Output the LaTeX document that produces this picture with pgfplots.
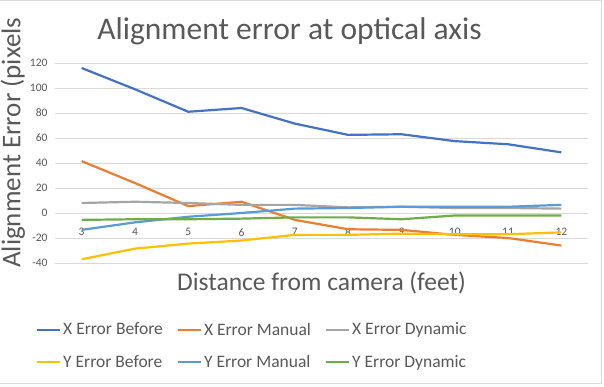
\documentclass[border=0pt]{standalone}
\usepackage{fontspec}
\setmainfont{Carlito}
\usepackage{pgfplots}
\pgfplotsset{compat=1.18}

\definecolor{txt}{HTML}{595959}
\definecolor{grd}{HTML}{D9D9D9}
\definecolor{c1}{HTML}{4472C4}
\definecolor{c2}{HTML}{ED7D31}
\definecolor{c3}{HTML}{A5A5A5}
\definecolor{c4}{HTML}{FFC000}
\definecolor{c5}{HTML}{5B9BD5}
\definecolor{c6}{HTML}{70AD47}

\begin{document}
\begin{tikzpicture}
\clip (0pt,0pt) rectangle (604pt,386pt);
\fill[white] (0pt,0pt) rectangle (604pt,386pt);
\draw[grd, line width=0.9pt] (-5pt,2.5pt) rectangle (601pt,385.5pt);
\begin{axis}[
    at={(55pt,123pt)}, anchor=south west,
    scale only axis,
    width=533pt, height=200pt,
    xmin=2.5, xmax=12.5,
    ymin=-40, ymax=120,
    xtick={3,...,12},
    ytick={-40,-20,...,120},
    axis line style={draw=none},
    tick style={draw=none},
    ymajorgrids,
    grid style={grd, line width=0.9pt},
    /pgf/number format/assume math mode=true,
    ticklabel style={font=\fontsize{11.5}{13}\selectfont, text=txt},
    xticklabel style={yshift=38pt},
    yticklabel style={xshift=-4pt},
    legend columns=3,
    legend style={
        at={(rel axis cs:-0.036,-0.415)}, anchor=west,
        draw=none, fill=none, inner sep=0pt,
        font=\fontsize{17.5}{19}\selectfont, text=txt,
        /tikz/every even column/.append style={column sep=12pt},
        row sep=15pt,
        legend cell align=left,
    },
    legend image code/.code={
        \draw[#1, line width=2.2pt] (0pt,0pt) -- (23pt,0pt);
    },
    every axis plot/.append style={line width=2.2pt},
]
\addplot[c1] coordinates {
    (3,116) (4,99) (5,81) (6,84) (7,71.5) (8,62.5) (9,63) (10,57.5) (11,55) (12,48.5)
};
\addplot[c2] coordinates {
    (3,41.5) (4,24) (5,5.5) (6,9) (7,-5.5) (8,-13) (9,-13.5) (10,-17.5) (11,-20) (12,-26)
};
\addplot[c3] coordinates {
    (3,8) (4,9) (5,8) (6,6.5) (7,6.5) (8,4.5) (9,5) (10,4) (11,4) (12,3.5)
};
\addplot[c4] coordinates {
    (3,-37) (4,-28.5) (5,-24.5) (6,-22) (7,-17.5) (8,-17.5) (9,-16.5) (10,-17) (11,-17) (12,-15.5)
};
\addplot[c5] coordinates {
    (3,-13.5) (4,-7.5) (5,-3) (6,0) (7,3.5) (8,4) (9,5) (10,5) (11,5) (12,6.5)
};
\addplot[c6] coordinates {
    (3,-5.5) (4,-5) (5,-5) (6,-4.5) (7,-3.5) (8,-3.5) (9,-5) (10,-2) (11,-2) (12,-2)
};
\legend{X Error Before, X Error Manual, X Error Dynamic,
        Y Error Before, Y Error Manual, Y Error Dynamic}
\end{axis}
\node[text=txt, font=\fontsize{31.5}{36}\selectfont, anchor=base] at (289.5pt,346pt) {Alignment error at optical axis};
\node[text=txt, font=\fontsize{25.5}{30}\selectfont, anchor=base] at (321.5pt,96pt) {Distance from camera (feet)};
\node[text=txt, font=\fontsize{27}{31}\selectfont, rotate=90, anchor=north west, inner sep=0pt] at (0.5pt,118pt) {Alignment Error (pixels};
\end{tikzpicture}
\end{document}
